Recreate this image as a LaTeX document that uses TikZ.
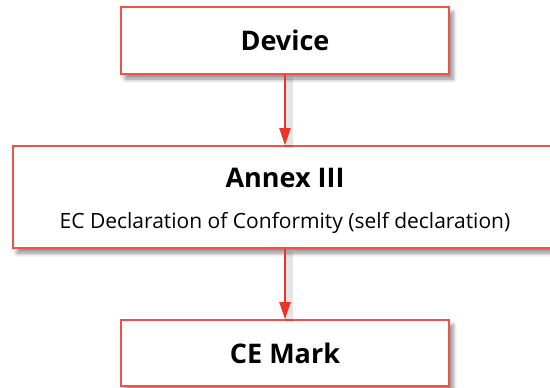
\documentclass[tikz,border=0pt]{standalone}
\usepackage{fontspec}
\setmainfont{Open Sans}
\usetikzlibrary{positioning,arrows.meta,shadows.blur}

\definecolor{boxred}{RGB}{240,82,74}
\definecolor{arrowred}{RGB}{236,52,42}

\begin{document}
\begin{tikzpicture}[x=1pt, y=-1pt,
	stagebox/.style={draw=boxred, line width=1.6pt, fill=white,
		minimum width=328pt, minimum height=67pt, inner sep=0pt, align=center,
		blur shadow={shadow xshift=4pt, shadow yshift=-5pt, shadow blur radius=4pt,
			shadow blur steps=6, shadow opacity=45},
		font=\fontsize{21}{36}\selectfont},
	titletext/.style={font=\fontsize{27}{36}\selectfont\bfseries},
	flow/.style={draw=arrowred, line width=2pt, -{Triangle[length=17pt, width=11pt]},
		preaction={-, draw=black, draw opacity=0.10, line width=8pt,
			transform canvas={shift={(4pt,-3pt)}}}},
	node distance=70.4pt]

	% ---- canvas

	\useasboundingbox (0,0) rectangle (550,388);
	\clip (0,0) rectangle (550,388);

	% ---- boxes

	\node[stagebox, titletext] (device) at (285,40.5) {Device};

	% wide box, runs off the right edge
	\node[stagebox, minimum width=560pt, minimum height=102pt, below=of device, xshift=8pt] (annex)
		{\rule{0pt}{28pt}{\fontsize{27}{36}\selectfont\bfseries Annex III}\hspace*{16pt}\\[5pt]
		EC Declaration of Conformity (self declaration)\hspace*{16pt}};

	\node[stagebox, titletext, minimum height=66pt, below=of annex, xshift=-8pt] (cemark) {CE Mark};

	% ---- arrows

	\draw[flow] (device) -- (device |- annex.north);
	\draw[flow] (annex.south -| cemark) -- (cemark);

\end{tikzpicture}
\end{document}
